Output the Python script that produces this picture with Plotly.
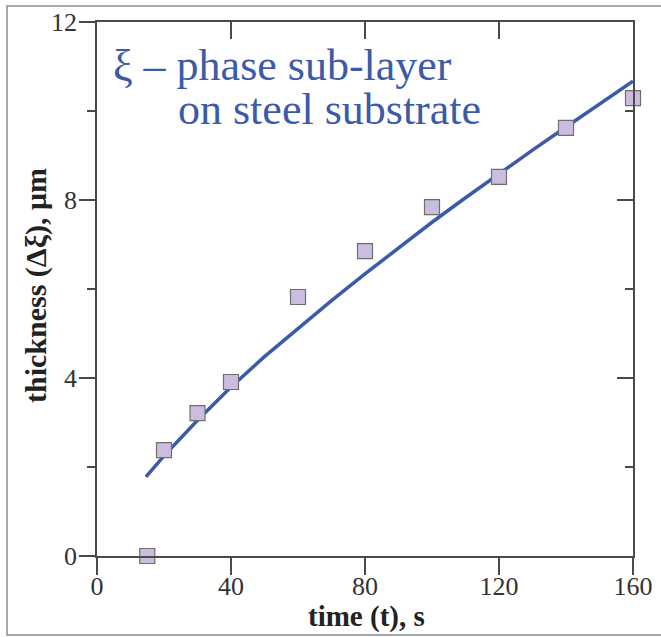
import plotly.graph_objects as go

# Measured data points
t_pts = [15, 20, 30, 40, 60, 80, 100, 120, 140, 160]
d_pts = [0.0, 2.38, 3.21, 3.91, 5.82, 6.85, 7.84, 8.52, 9.62, 10.29]

# Fitted curve
t_fit = [14.6, 20, 30, 40, 50, 60, 70, 80, 90, 100, 110, 120, 130, 140, 150, 160]
d_fit = [1.78, 2.25, 3.05, 3.80, 4.48, 5.12, 5.74, 6.34, 6.93, 7.50, 8.05, 8.59, 9.12, 9.64, 10.16, 10.67]

x_ticks = [0, 40, 80, 120, 160]
y_ticks = [0, 4, 8, 12]

AX = "#4a4a4a"
BLUE = "#3b5ba8"
SERIF = "Liberation Serif, Times New Roman, serif"

L, R, T, B = 97, 28, 22, 81
W, H = 661, 637
PW, PH = W - L - R, H - T - B


def px_x(p):
    return (p - L) / PW


def px_y(p):
    return (H - B - p) / PH


fig = go.Figure()
fig.add_trace(go.Scatter(x=t_fit, y=d_fit, mode="lines",
                         line=dict(color=BLUE, width=3.5), hoverinfo="skip"))
fig.add_trace(go.Scatter(x=t_pts, y=d_pts, mode="markers",
                         marker=dict(symbol="square", size=15, color="#cbbde0",
                                     line=dict(color="#6e6e6e", width=1.2)),
                         cliponaxis=False))
# dummy trace for mirror axes
fig.add_trace(go.Scatter(x=[t_pts[0]], y=[d_pts[0]], xaxis="x2", yaxis="y2",
                         mode="markers", marker=dict(opacity=0), hoverinfo="skip"))

fig.add_annotation(text="ξ – phase sub-layer", x=px_x(111), y=px_y(92), xref="paper", yref="paper",
                   xanchor="left", yanchor="bottom", showarrow=False,
                   font=dict(family=SERIF, size=44, color=BLUE))
fig.add_annotation(text="on steel substrate", x=px_x(176), y=px_y(136), xref="paper", yref="paper",
                   xanchor="left", yanchor="bottom", showarrow=False,
                   font=dict(family=SERIF, size=44, color=BLUE))

# axis titles
fig.add_annotation(text="<b>time (t), s</b>", x=px_x(366), y=px_y(616), xref="paper", yref="paper",
                   xanchor="center", yanchor="middle", showarrow=False,
                   font=dict(family=SERIF, size=29, color="#222222"))
fig.add_annotation(text="<b>thickness (Δξ), μm</b>", x=px_x(36), y=px_y(286), xref="paper", yref="paper",
                   xanchor="center", yanchor="middle", showarrow=False, textangle=-90,
                   font=dict(family=SERIF, size=30, color="#222222"))

common_tick_font = dict(family=SERIF, size=26, color="#333333")

fig.update_layout(
    width=W, height=H,
    margin=dict(l=L, r=R, t=T, b=B, autoexpand=False),
    paper_bgcolor="white", plot_bgcolor="white",
    showlegend=False,
    xaxis=dict(range=[0, 160], tickvals=x_ticks, ticks="outside", ticklen=17,
               tickwidth=1.5, tickcolor=AX, showline=True, linecolor=AX, linewidth=1.5,
               showgrid=False, zeroline=False, tickfont=common_tick_font, automargin=False,
               ticklabelstandoff=-11),
    yaxis=dict(range=[0, 12], tickvals=y_ticks, ticks="outside", ticklen=16,
               tickwidth=1.5, tickcolor=AX, showline=True, linecolor=AX, linewidth=1.5,
               showgrid=False, zeroline=False, tickfont=common_tick_font, automargin=False,
               ticklabelstandoff=-3,
               minor=dict(tickvals=[2, 6, 10], ticks="outside", ticklen=8,
                          tickwidth=1.5, tickcolor=AX)),
    xaxis2=dict(range=[0, 160], overlaying="x", side="top", tickvals=[40, 80, 120],
                ticks="inside", ticklen=17, tickwidth=1.5, tickcolor=AX,
                showline=True, linecolor=AX, linewidth=1.5, showticklabels=False,
                showgrid=False, zeroline=False, automargin=False),
    yaxis2=dict(range=[0, 12], overlaying="y", side="right", tickvals=[4, 8],
                ticks="inside", ticklen=16, tickwidth=1.5, tickcolor=AX,
                showline=True, linecolor=AX, linewidth=1.5, showticklabels=False,
                showgrid=False, zeroline=False, automargin=False,
                minor=dict(tickvals=[2, 6, 10], ticks="inside", ticklen=8,
                           tickwidth=1.5, tickcolor=AX)),
)

# outer frame of the figure
fig.add_shape(type="rect", xref="paper", yref="paper",
              x0=px_x(7), x1=px_x(664), y0=px_y(635), y1=px_y(6),
              line=dict(color="#8a8a8a", width=1.5), fillcolor="rgba(0,0,0,0)")

fig.write_html("out.html", config={"displayModeBar": False},
               post_script="document.body.style.margin='0';")
